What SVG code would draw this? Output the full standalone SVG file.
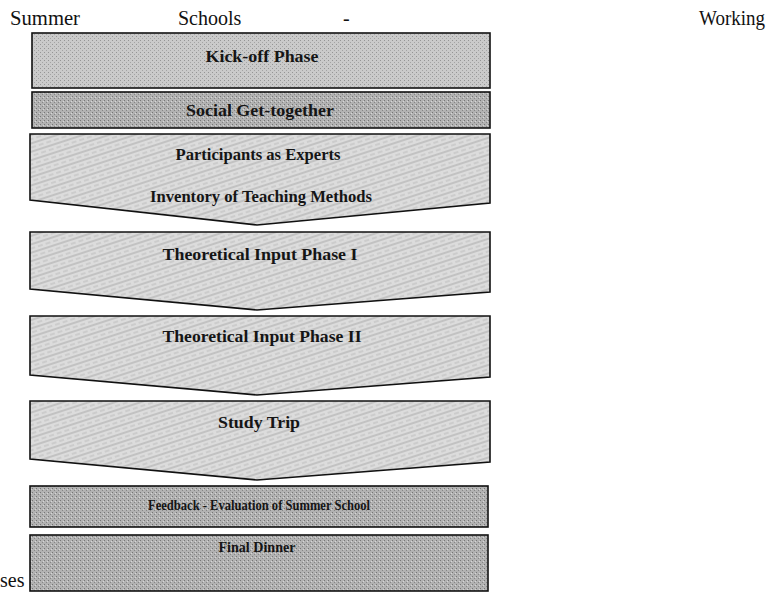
<svg xmlns="http://www.w3.org/2000/svg" width="769" height="593" viewBox="0 0 769 593">
<style>
.title{font-family:"Liberation Serif","Times New Roman",serif;font-size:20px;fill:#111}
.lbl{font-family:"Liberation Serif","Times New Roman",serif;font-weight:bold;font-size:17px;fill:#151515;text-anchor:middle}
.sm{font-size:16px}
.xs{font-size:15px}
.shape{stroke:#111;stroke-width:1.6;stroke-linejoin:miter}
.dark{fill:url(#dotDark)}
.mid{fill:url(#dotMid)}
.light{fill:url(#hatch)}
</style>
<defs>
<pattern id="hatch" width="8" height="8" patternUnits="userSpaceOnUse" patternTransform="rotate(-18)">
<rect width="8" height="8" fill="#dcdcdc"/>
<line x1="0" y1="2" x2="8" y2="2" stroke="#a8a8a8" stroke-width="1"/>
<line x1="0" y1="6" x2="5" y2="6" stroke="#bcbcbc" stroke-width="1"/>
</pattern>
<pattern id="dotMid" width="4" height="4" patternUnits="userSpaceOnUse">
<rect width="4" height="4" fill="#cacaca"/>
<rect x="0" y="0" width="1" height="1" fill="#959595"/>
<rect x="2" y="2" width="1" height="1" fill="#a4a4a4"/>
</pattern>
<pattern id="dotDark" width="4" height="4" patternUnits="userSpaceOnUse">
<rect width="4" height="4" fill="#b2b2b2"/>
<rect x="0" y="0" width="1" height="1" fill="#767676"/>
<rect x="2" y="2" width="1" height="1" fill="#868686"/>
<rect x="3" y="1" width="1" height="1" fill="#d6d6d6"/>
</pattern>
</defs>
<rect width="769" height="593" fill="#ffffff"/>
<g id="title">
<text class="title" x="10" y="25" textLength="70" lengthAdjust="spacingAndGlyphs">Summer</text>
<text class="title" x="178" y="25">Schools</text>
<text class="title" x="343" y="25">-</text>
<text class="title" x="699" y="25" textLength="66" lengthAdjust="spacingAndGlyphs">Working</text>
<text class="title" x="0" y="587">ses</text>
</g>
<g id="kickoff">
<rect class="shape mid" x="32" y="33" width="458" height="55"/>
<text class="lbl" x="262" y="62" textLength="113" lengthAdjust="spacingAndGlyphs">Kick-off Phase</text>
</g>
<g id="social">
<rect class="shape dark" x="32" y="92" width="458" height="36"/>
<text class="lbl" x="260" y="116" textLength="148" lengthAdjust="spacingAndGlyphs">Social Get-together</text>
</g>
<g id="participants">
<polygon class="shape light" points="30,134 490,134 490,203 257,225 30,200"/>
<text class="lbl sm" x="258" y="160" textLength="165" lengthAdjust="spacingAndGlyphs">Participants as Experts</text>
<text class="lbl" x="261" y="202" textLength="222" lengthAdjust="spacingAndGlyphs">Inventory of Teaching Methods</text>
</g>
<g id="theory1">
<polygon class="shape light" points="30,232 490,232 490,292 257,310 30,289"/>
<text class="lbl" x="260" y="260" textLength="195" lengthAdjust="spacingAndGlyphs">Theoretical Input Phase I</text>
</g>
<g id="theory2">
<polygon class="shape light" points="30,316 490,316 490,377 257,395 30,375"/>
<text class="lbl" x="262" y="342" textLength="199" lengthAdjust="spacingAndGlyphs">Theoretical Input Phase II</text>
</g>
<g id="studytrip">
<polygon class="shape light" points="30,401 490,401 490,462 257,480 30,459"/>
<text class="lbl" x="259" y="428" textLength="82" lengthAdjust="spacingAndGlyphs">Study Trip</text>
</g>
<g id="feedback">
<rect class="shape dark" x="30" y="486" width="458" height="41"/>
<text class="lbl xs" x="259" y="510" textLength="222" lengthAdjust="spacingAndGlyphs">Feedback - Evaluation of Summer School</text>
</g>
<g id="dinner">
<rect class="shape dark" x="30" y="535" width="458" height="56"/>
<text class="lbl xs" x="257" y="552" textLength="77" lengthAdjust="spacingAndGlyphs">Final Dinner</text>
</g>
</svg>
